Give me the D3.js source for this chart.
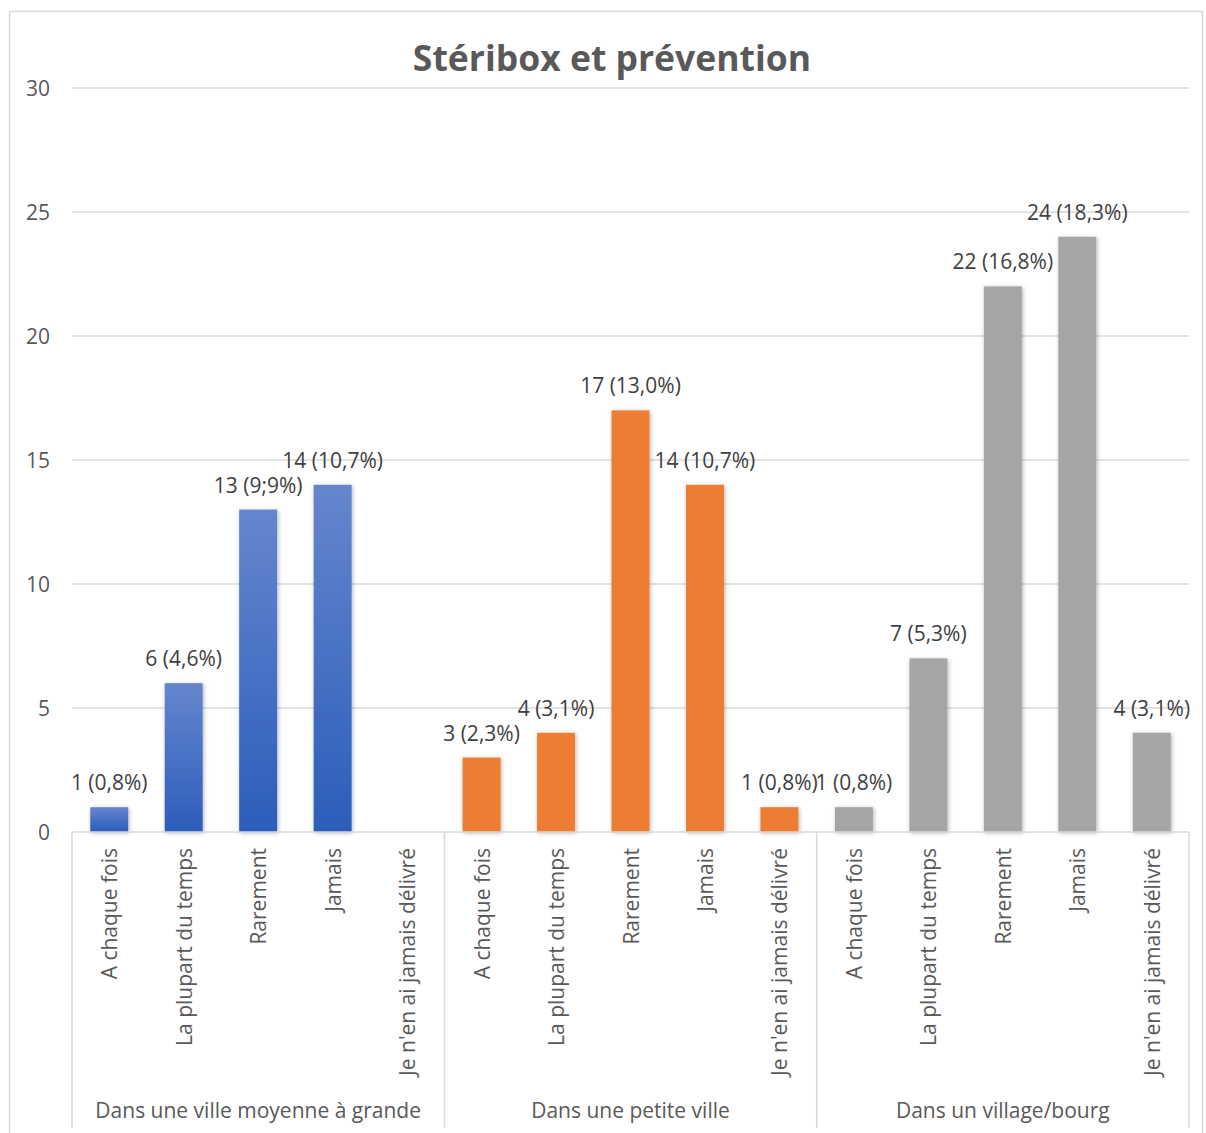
<!DOCTYPE html>
<html><head><meta charset="utf-8">
<script src="https://cdn.jsdelivr.net/npm/d3@7/dist/d3.min.js"></script>
<style>body{margin:0;background:#fff}svg{display:block;font-family:"Open Sans",Lato,sans-serif}</style>
</head><body><svg id="c" width="1206" height="1133"></svg>
<script>
const title = "Stéribox et prévention";
const groups = ["Dans une ville moyenne à grande", "Dans une petite ville", "Dans un village/bourg"];
const categories = ["A chaque fois", "La plupart du temps", "Rarement", "Jamais", "Je n'en ai jamais délivré"];
const valuesVille = [1, 6, 13, 14, 0];
const valuesPetite = [3, 4, 17, 14, 1];
const valuesVillage = [1, 7, 22, 24, 4];
const labelsVille = ["1 (0,8%)", "6 (4,6%)", "13 (9;9%)", "14 (10,7%)", ""];
const labelsPetite = ["3 (2,3%)", "4 (3,1%)", "17 (13,0%)", "14 (10,7%)", "1 (0,8%)"];
const labelsVillage = ["1 (0,8%)", "7 (5,3%)", "22 (16,8%)", "24 (18,3%)", "4 (3,1%)"];
const yTicks = [0, 5, 10, 15, 20, 25, 30];

const allValues = [valuesVille, valuesPetite, valuesVillage];
const allLabels = [labelsVille, labelsPetite, labelsVillage];
const data = [];
groups.forEach((g, gi) => categories.forEach((c, ci) => data.push({
  key: gi + "|" + ci, group: gi, cat: c, value: allValues[gi][ci], label: allLabels[gi][ci]
})));

const FONT = "'Open Sans',Lato,sans-serif";
const FS = 21;
const svg = d3.select("#c");
const L = 72, R = 1189, T = 88, B = 832, BOTTOM = 1128;
const x = d3.scaleBand().domain(data.map(d => d.key)).range([L, R]).paddingInner(0.49).paddingOuter(0.245);
const gx = d3.scaleBand().domain(groups.map((g, i) => i)).range([L, R]);
const y = d3.scaleLinear().domain([0, 30]).range([B, T]);

// chart border
svg.append("rect").attr("x", 9.5).attr("y", 11.5).attr("width", 1193).attr("height", 1130)
  .attr("fill", "#fff").attr("stroke", "#d9d9d9").attr("stroke-width", 1.5);

const defs = svg.append("defs");
const grad = defs.append("linearGradient").attr("id", "blueGrad").attr("x1", 0).attr("y1", 0).attr("x2", 0).attr("y2", 1);
grad.append("stop").attr("offset", "0%").attr("stop-color", "#6586cd");
grad.append("stop").attr("offset", "100%").attr("stop-color", "#2c5dbb");
const shadow = defs.append("filter").attr("id", "sh").attr("x", "-30%").attr("y", "-10%").attr("width", "160%").attr("height", "130%");
shadow.append("feDropShadow").attr("dx", 1).attr("dy", 1).attr("stdDeviation", 2).attr("flood-color", "#000").attr("flood-opacity", 0.3);

const fills = ["url(#blueGrad)", "#ed7d31", "#a5a5a5"];

// gridlines
svg.append("g").selectAll("line").data(yTicks.filter(t => t > 0)).join("line")
  .attr("x1", L).attr("x2", R).attr("y1", d => y(d)).attr("y2", d => y(d))
  .attr("stroke", "#d9d9d9").attr("stroke-width", 1.5);

// y axis labels
const yAxis = svg.append("g").attr("transform", `translate(${L},0)`)
  .call(d3.axisLeft(y).tickValues(yTicks).tickSize(0).tickPadding(22));
yAxis.select(".domain").remove();
yAxis.selectAll("text").attr("font-size", FS).attr("fill", "#595959").attr("font-family", FONT).attr("dy", "0.35em");

// bars
svg.append("g").selectAll("rect").data(data.filter(d => d.value > 0)).join("rect")
  .attr("x", d => x(d.key)).attr("width", x.bandwidth())
  .attr("y", d => y(d.value)).attr("height", d => y(0) - y(d.value))
  .attr("fill", d => fills[d.group]).attr("filter", "url(#sh)");

// data labels
svg.append("g").selectAll("text").data(data.filter(d => d.label)).join("text")
  .attr("x", d => x(d.key) + x.bandwidth() / 2).attr("y", d => y(d.value) - 17)
  .attr("text-anchor", "middle").attr("font-size", FS).attr("fill", "#404040")
  .text(d => d.label);

// axis lines
const ax = svg.append("g").attr("stroke", "#d9d9d9").attr("stroke-width", 1.5);
ax.append("line").attr("x1", L).attr("x2", R).attr("y1", B).attr("y2", B);
ax.selectAll("line.sep").data(d3.range(groups.length + 1)).join("line").attr("class", "sep")
  .attr("x1", i => i < groups.length ? gx(i) : R).attr("x2", i => i < groups.length ? gx(i) : R)
  .attr("y1", B).attr("y2", BOTTOM);

// category labels
svg.append("g").selectAll("text").data(data).join("text")
  .attr("transform", d => `translate(${x(d.key) + x.bandwidth() / 2 + 8},${B + 16}) rotate(-90)`)
  .attr("text-anchor", "end").attr("font-size", FS).attr("fill", "#595959")
  .text(d => d.cat);

// group labels
svg.append("g").selectAll("text").data(groups).join("text")
  .attr("x", (g, i) => gx(i) + gx.bandwidth() / 2).attr("y", 1118)
  .attr("text-anchor", "middle").attr("font-size", FS).attr("fill", "#595959")
  .text(g => g);

// title
svg.append("text").attr("x", 612).attr("y", 71).attr("text-anchor", "middle")
  .attr("font-size", 35.5).attr("font-weight", "bold").attr("fill", "#595959").text(title);
</script></body></html>
